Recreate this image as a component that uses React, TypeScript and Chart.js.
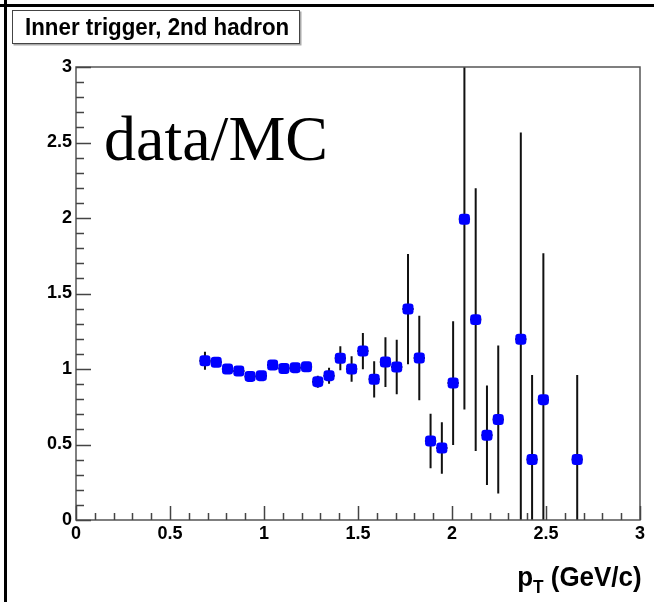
import React, { useEffect, useRef } from "react";
import { Chart, registerables } from "chart.js";

Chart.register(...registerables);

// p_T bin centres (GeV/c)
const xVals = [
  0.686, 0.746, 0.806, 0.866, 0.926, 0.986, 1.046, 1.106, 1.166, 1.226, 1.286,
  1.346, 1.406, 1.466, 1.526, 1.586, 1.646, 1.706, 1.766, 1.826, 1.886, 1.946,
  2.006, 2.066, 2.126, 2.186, 2.246, 2.366, 2.426, 2.486, 2.666,
];
// data/MC ratio
const yVals = [
  1.055, 1.044, 1.0, 0.987, 0.951, 0.956, 1.026, 1.003, 1.009, 1.015, 0.916,
  0.956, 1.071, 1.0, 1.119, 0.932, 1.046, 1.013, 1.397, 1.073, 0.523, 0.477,
  0.907, 1.991, 1.327, 0.561, 0.665, 1.197, 0.4, 0.797, 0.4,
];
// symmetric vertical errors
const yErrs = [
  0.06, 0.03, 0.03, 0.03, 0.03, 0.03, 0.03, 0.03, 0.03, 0.03, 0.04, 0.053,
  0.08, 0.085, 0.12, 0.12, 0.165, 0.18, 0.365, 0.28, 0.18, 0.17, 0.41, 1.26,
  0.87, 0.33, 0.49, 1.37, 0.56, 0.97, 0.56,
];
const xHalfWidth = 0.03;
const axisMin = 0;
const axisMax = 3;
const majorStep = 0.5;
const minorDivs = 30; // minor ticks every 0.1

const titleText = "Inner trigger, 2nd hadron";
const overlayText = "data/MC";

const SANS = "'Liberation Sans', Arial, Helvetica, sans-serif";
const SERIF = "'Liberation Serif', 'Times New Roman', serif";

const errorBarPlugin = {
  id: "errorBars",
  beforeDatasetsDraw(chart: any) {
    const { ctx, chartArea, scales } = chart;
    const xs = scales.x;
    const ys = scales.y;
    ctx.save();
    ctx.beginPath();
    ctx.rect(chartArea.left, chartArea.top, chartArea.right - chartArea.left, chartArea.bottom - chartArea.top);
    ctx.clip();
    ctx.strokeStyle = "#111";
    ctx.lineWidth = 2;
    for (let i = 0; i < xVals.length; i++) {
      const px = xs.getPixelForValue(xVals[i]);
      const py = ys.getPixelForValue(yVals[i]);
      const yTop = ys.getPixelForValue(yVals[i] + yErrs[i]);
      const yBot = ys.getPixelForValue(yVals[i] - yErrs[i]);
      const xl = xs.getPixelForValue(xVals[i] - xHalfWidth);
      const xr = xs.getPixelForValue(xVals[i] + xHalfWidth);
      ctx.beginPath();
      ctx.moveTo(px, yTop);
      ctx.lineTo(px, yBot);
      ctx.moveTo(xl, py);
      ctx.lineTo(xr, py);
      ctx.stroke();
    }
    ctx.restore();
  },
};

const framePlugin = {
  id: "rootFrame",
  afterDraw(chart: any) {
    const { ctx, chartArea, scales } = chart;
    const xs = scales.x;
    const ys = scales.y;
    const { left, right, top, bottom } = chartArea;
    ctx.save();
    // canvas outer lines
    ctx.strokeStyle = "#000";
    ctx.lineWidth = 3;
    ctx.beginPath();
    ctx.moveTo(0, 5.5);
    ctx.lineTo(chart.width, 5.5);
    ctx.moveTo(5.5, 0);
    ctx.lineTo(5.5, chart.height);
    ctx.stroke();
    // plot frame
    ctx.strokeStyle = "#555";
    ctx.lineWidth = 1.5;
    ctx.strokeRect(left, top, right - left, bottom - top);
    // ticks (inside)
    ctx.strokeStyle = "#444";
    ctx.lineWidth = 1.5;
    ctx.beginPath();
    for (let i = 0; i <= minorDivs; i++) {
      const v = axisMin + ((axisMax - axisMin) * i) / minorDivs;
      const isMajor = Math.abs(v / majorStep - Math.round(v / majorStep)) < 1e-6;
      const xLen = isMajor ? 14 : 7;
      const yLen = isMajor ? 15 : 8;
      const px = Math.round(xs.getPixelForValue(v)) + 0.5;
      ctx.moveTo(px, bottom);
      ctx.lineTo(px, bottom - xLen);
      const py = Math.round(ys.getPixelForValue(v)) + 0.5;
      ctx.moveTo(left, py);
      ctx.lineTo(left + yLen, py);
    }
    ctx.stroke();
    ctx.restore();
  },
};

export default function App() {
  const canvasRef = useRef<HTMLCanvasElement | null>(null);

  useEffect(() => {
    document.body.style.margin = "0";
    const canvas = canvasRef.current;
    if (!canvas) return;
    const points = xVals.map((x, i) => ({ x, y: yVals[i] }));
    const tickFont = { family: SANS, size: 18, weight: "bold" as const };
    const chart = new Chart(canvas, {
      type: "scatter",
      data: {
        datasets: [
          {
            label: "data/MC",
            data: points,
            backgroundColor: "#0000ff",
            borderColor: "#0000ff",
            pointRadius: 6.4,
            pointStyle: "rectRounded",
            borderWidth: 0,
          },
        ],
      },
      options: {
        animation: false,
        responsive: false,
        devicePixelRatio: 1,
        layout: { padding: { top: 67, right: 14, left: 0, bottom: 0 } },
        plugins: {
          legend: { display: false },
          tooltip: { enabled: false },
          title: { display: false },
        },
        scales: {
          x: {
            type: "linear",
            min: axisMin,
            max: axisMax,
            grid: { display: false, drawTicks: false },
            border: { display: false },
            ticks: {
              stepSize: majorStep,
              color: "#000",
              font: tickFont,
              padding: 3,
              maxRotation: 0,
              callback: (v: any) => String(v),
            },
            afterFit: (s: any) => {
              s.height = 82;
            },
          },
          y: {
            type: "linear",
            min: axisMin,
            max: axisMax,
            grid: { display: false, drawTicks: false },
            border: { display: false },
            ticks: {
              stepSize: majorStep,
              color: "#000",
              font: tickFont,
              padding: 4,
              callback: (v: any) => String(v),
            },
            afterFit: (s: any) => {
              s.width = 76;
            },
          },
        },
      },
      plugins: [errorBarPlugin, framePlugin],
    });
    return () => chart.destroy();
  }, []);

  return (
    <div style={{ position: "fixed", left: 0, top: 0, width: 654, height: 602, background: "#fff" }}>
      <canvas ref={canvasRef} width={654} height={602} style={{ display: "block" }} />
      <div
        style={{
          position: "absolute",
          left: 12,
          top: 10,
          width: 288,
          height: 34,
          boxSizing: "border-box",
          border: "1.5px solid #444",
          boxShadow: "1.5px 1.5px 0 #aaa",
          background: "#fff",
          overflow: "hidden",
          whiteSpace: "nowrap",
          color: "#000",
        }}
      >
        <span
          style={{
            display: "inline-block",
            marginLeft: 12,
            fontFamily: SANS,
            fontWeight: "bold",
            fontSize: 24,
            lineHeight: "32px",
            transform: "scaleX(0.93)",
            transformOrigin: "left center",
          }}
        >
          {titleText}
        </span>
      </div>
      <div
        style={{
          position: "absolute",
          left: 104,
          top: 107,
          fontFamily: SERIF,
          fontSize: 64,
          lineHeight: "64px",
          whiteSpace: "nowrap",
          color: "#000",
        }}
      >
        {overlayText}
      </div>
      <div
        style={{
          position: "absolute",
          right: 12,
          top: 564,
          fontFamily: SANS,
          fontWeight: "bold",
          fontSize: 27,
          lineHeight: "27px",
          whiteSpace: "nowrap",
          color: "#000",
          transform: "scaleX(0.96)",
          transformOrigin: "right center",
        }}
      >
        p<span style={{ fontSize: 18, position: "relative", top: 7 }}>T</span> (GeV/c)
      </div>
    </div>
  );
}
